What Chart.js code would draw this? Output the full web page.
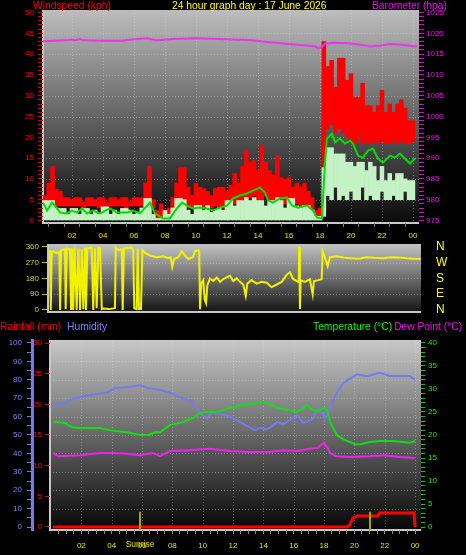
<!DOCTYPE html>
<html>
<head>
<meta charset="utf-8">
<title>24 hour graph day : 17 June 2026</title>
<script src="https://cdn.jsdelivr.net/npm/chart.js@4.4.1/dist/chart.umd.min.js"></script>
<style>
  html, body { margin: 0; padding: 0; background: #000; }
  body { position: relative; width: 466px; height: 555px; overflow: hidden; font-family: 'Liberation Sans', Arial, sans-serif; }
  canvas { position: absolute; left: 0; }
  .lbl { position: absolute; font-size: 10.3px; line-height: 12px; white-space: nowrap; z-index: 5; }
</style>
</head>
<body>
<div class="lbl" style="left:33px; top:0; color:#ff0000">Windspeed (kph)</div>
<div class="lbl" style="left:172px; top:0; color:#ffff00">24 hour graph day : 17 June 2026</div>
<div class="lbl" style="left:372px; top:0; color:#ff00ff">Barometer (hpa)</div>
<div class="lbl" style="left:0; top:321px; color:#ff0000">Rainfall (mm)</div>
<div class="lbl" style="left:67px; top:321px; color:#8080ff">Humidity</div>
<div class="lbl" style="left:313px; top:321px; color:#00ff00">Temperature (°C)</div>
<div class="lbl" style="left:394px; top:321px; color:#ff00ff">Dew Point (°C)</div>

<canvas id="windChart" width="466" height="245" style="top:0"></canvas>
<canvas id="dirChart" width="466" height="80" style="top:240px"></canvas>
<canvas id="tempChart" width="466" height="220" style="top:335px"></canvas>

<script>
// ---------- data (hours since midnight) ----------
const hourLabels = [2, 4, 6, 8, 10, 12, 14, 16, 18, 20, 22, 24];
const windLabels = [0, 5, 10, 15, 20, 25, 30, 35, 40, 45, 50];
const baroLabels = [975, 980, 985, 990, 995, 1000, 1005, 1010, 1015, 1020, 1025];
const dirLabels = [0, 90, 180, 270, 360];
const compassLabels = ['N', 'E', 'S', 'W', 'N'];
const humLabels = [0, 10, 20, 30, 40, 50, 60, 70, 80, 90, 100];
const rainLabels = [0, 5, 10, 15, 20, 25, 30];
const tempLabels = [0, 5, 10, 15, 20, 25, 30, 35, 40];

// 15 minute bins for wind speed / gust ranges
const binHours = Array.from({ length: 97 }, (_, i) => i * 0.25);

const gustHigh = [
  5.5, 6, 9, 13, 7.5, 7, 5.5, 5.5, 5, 5.5,
  5.5, 4.5, 5.5, 5.5, 5, 5.5, 5.5, 4.5, 5.5, 5.5,
  5, 5.5, 5.5, 4.5, 5.5, 5.5, 5.5, 9, 13, 5,
  2.5, 4, 2.5, 3, 5.5, 9, 12.7, 12.7, 8, 6,
  8.9, 8, 7.7, 7, 6, 7.7, 8, 8, 7, 8.5,
  11.3, 9, 13, 16.8, 14, 14.4, 12, 18, 14, 12,
  11, 15.6, 10.3, 10, 10.3, 8, 8.9, 8, 8.9, 7,
  5.5, 2.4, 3, 43, 37, 38.5, 32, 39, 39, 33.7,
  35.3, 29.6, 29.6, 33, 27.6, 27.6, 26, 27.6, 31.3, 26,
  28, 26, 28, 29, 27, 24, 24
];
const gustLow = [
  2.5, 3.5, 4, 4, 3.5, 3.5, 3.5, 3.5, 3.5, 3.5,
  3.5, 3, 3.5, 3.5, 3.5, 3, 3.5, 3.5, 3.5, 3.5,
  3.5, 3.5, 3, 3.5, 3.5, 3.5, 3.5, 4, 4, 3,
  0.5, 0.5, 0.5, 0.5, 2, 3, 4, 4, 3, 3,
  3.5, 3, 3, 3, 3, 3.5, 3, 3, 3, 4,
  4, 4, 5, 5, 5.5, 6, 5, 5, 6, 5,
  4.5, 5, 4.5, 4, 4, 3.5, 4, 3.5, 3, 3,
  2.5, 0.3, 0.3, 2, 22, 23, 21, 22, 21, 20,
  19, 18.5, 20, 18.5, 19, 18.5, 19, 18.5, 19, 18.5,
  18.5, 19, 18.5, 19, 18.5, 18.5, 19
];
const speedHigh = [
  3, 4.8, 4.8, 4.8, 3, 2.9, 2.9, 1.5, 2.9, 2.9,
  1.5, 2.9, 2.9, 1.5, 2.5, 1.5, 3.3, 3.3, 1.5, 2.5,
  1.5, 2.9, 2.9, 2.5, 1.5, 2, 3, 5.3, 5.3, 1.5,
  0.5, 0.5, 2.4, 1.5, 3, 5.3, 5.3, 5, 2.5, 1.5,
  3.6, 3.6, 2.5, 3.6, 2, 2.5, 3, 2.5, 4.8, 4.8,
  3.5, 4.8, 4.8, 5.5, 4.8, 5.5, 4.8, 4.8, 3.5, 4.8,
  4.8, 5.5, 4.8, 3, 5.3, 5.3, 3.5, 3, 3.6, 3.6,
  2.5, 1, 1, 12.7, 17.5, 17.5, 16, 16, 16, 14,
  14, 13, 14, 14, 12, 14, 13, 9.6, 13, 9.6,
  11.3, 9.6, 11.3, 11.3, 10, 9.6, 9.6
];
const speedLow = [
  0, 0, 0, 0, 0, 0, 0, 0, 0, 0,
  0, 0, 0, 0, 0, 0, 0, 0, 0, 0,
  0, 0, 0, 0, 0, 0, 0, 0, 0, 0,
  0, 0, 0, 0, 0, 0, 0, 0, 0, 0,
  0, 0, 0, 0, 0, 0, 0, 0, 0, 0,
  0, 0, 0, 0, 0, 0, 0, 0, 0, 0,
  0, 0, 0, 0, 0, 0, 0, 0, 0, 0,
  0, 0, 0, 1, 6, 5, 8, 5, 6, 5,
  7, 5, 5, 8, 5, 6, 5, 5, 7, 5,
  5, 6, 5, 5, 7, 5, 5
];

const avgHours = [0.13, 0.39, 0.71, 0.9, 1.23, 1.68, 2.0, 2.32, 2.65, 2.97, 3.35, 3.81, 4.45, 4.9, 5.55, 5.94, 6.39, 7.03, 7.35, 7.87,
  8.32, 8.77, 9.1, 9.42, 9.81, 10.26, 10.71, 11.1, 11.55, 12.0, 12.39, 12.84, 13.29, 13.68, 14.13, 14.45, 14.65, 14.97, 15.42, 15.87,
  16.19, 16.58, 17.16, 17.55, 17.81, 18.13, 18.32, 18.45, 18.77, 18.97, 19.29, 19.61, 19.94, 20.13, 20.45, 20.77, 21.1, 21.42, 21.74, 22.06,
  22.52, 22.84, 23.16, 23.48, 23.81, 24.13];
const avgSpeed = [4.3, 2.4, 4.3, 3.6, 1.9, 1.7, 2.4, 1.9, 2.9, 1.7, 2.4, 1.7, 2.9, 1.9, 1.9, 2.4, 1.7, 4.3, 1.7, 0.5,
  0.5, 2.9, 4.3, 3.6, 2.9, 3.1, 2.9, 2.4, 3.1, 3.6, 5.3, 6.0, 6.5, 7.2, 7.9, 6.7, 4.8, 4.3, 5.3, 5.5,
  3.6, 3.1, 3.6, 2.4, 0.7, 0.5, 13.7, 19.7, 20.9, 18.8, 19.7, 18.5, 19.2, 18.5, 15.6, 15.1, 16.8, 17.3, 14.9, 13.9,
  15.6, 15.1, 16.1, 14.9, 13.7, 14.9];

const baroHours = [0.13, 1.68, 1.94, 2.19, 2.52, 2.71, 3.81, 5.29, 5.55, 6.84, 7.48, 8.5, 10.0, 11.5, 13.6, 14.6, 16.71, 17.68, 17.87, 18.13,
  18.32, 18.84, 19.81, 20.58, 21.23, 21.87, 22.52, 23.16, 24.0, 24.26];
const baroValues = [1018.1, 1018.3, 1018.5, 1018.3, 1018.6, 1018.3, 1018.2, 1018.2, 1018.4, 1018.8, 1018.3, 1018.6, 1018.8, 1018.6, 1018.3, 1017.9, 1017.2, 1016.9, 1016.4, 1016.7,
  1017.5, 1017.7, 1017.6, 1017.3, 1016.8, 1017.0, 1017.4, 1017.3, 1016.9, 1016.9];

const dirHours = [
  0.54, 0.58, 0.63, 0.69, 0.77, 0.97, 1.18, 1.23, 1.29, 1.55,
  1.59, 1.66, 1.87, 1.94, 2.00, 2.08, 2.17, 2.30, 2.41, 2.52,
  2.63, 2.73, 2.84, 2.90, 2.99, 3.27, 3.37, 3.48, 3.59, 3.70,
  3.81, 3.92, 4.00, 4.39, 4.77, 4.82, 4.99, 5.21, 5.27, 5.35,
  5.85, 5.95, 6.02, 6.17, 6.24, 6.32, 6.45, 6.54, 6.71, 7.03,
  7.46, 7.89, 8.21, 8.37, 8.47, 8.58, 8.86, 9.08, 9.29, 9.50,
  9.79, 9.94, 10.15, 10.21, 10.26, 10.34, 10.47, 10.56, 10.65, 10.73,
  10.90, 11.12, 11.34, 11.55, 11.76, 11.98, 12.19, 12.41, 12.63, 12.84,
  13.05, 13.21, 13.31, 13.59, 13.92, 14.24, 14.56, 14.88, 15.21, 15.53,
  15.85, 16.06, 16.28, 16.50, 16.63, 16.66, 16.71, 16.75, 17.03, 17.35,
  17.53, 17.61, 17.89, 18.11, 18.17, 18.32, 18.50, 18.65, 19.08, 19.50,
  19.94, 20.50, 21.01, 21.50, 22.08, 22.60, 23.16, 23.60, 24.02, 24.50
];
const dirValues = [
  340, 330, 0, 330, 335, 325, 330, 0, 340, 345,
  5, 350, 345, 0, 350, 0, 355, 0, 350, 0,
  345, 5, 355, 0, 350, 355, 0, 350, 10, 355,
  350, 5, 8, 5, 10, 355, 340, 345, 0, 350,
  355, 340, 10, 5, 350, 5, 5, 340, 325, 310,
  300, 305, 295, 300, 245, 290, 300, 335, 310, 290,
  300, 335, 340, 330, 5, 150, 170, 60, 40, 140,
  180, 165, 185, 160, 175, 185, 195, 165, 180, 160,
  145, 80, 150, 170, 150, 160, 155, 130, 145, 160,
  200, 215, 175, 165, 160, 360, 5, 170, 160, 175,
  90, 165, 170, 175, 335, 300, 250, 300, 305, 298,
  295, 292, 300, 297, 295, 300, 298, 294, 292, 290
];

const humHours = [0.13, 0.46, 0.92, 1.25, 1.91, 2.77, 3.69, 4.22, 5.01, 5.87, 6.39, 7.19, 7.84, 8.5, 9.36, 9.62, 9.82, 10.28, 10.61, 10.94,
  11.34, 11.8, 12.46, 13.12, 13.45, 13.78, 14.11, 14.44, 14.9, 15.29, 15.75, 16.22, 16.61, 16.94, 17.27, 17.53, 17.73, 17.93, 18.07, 18.4,
  18.85, 19.25, 19.58, 20.17, 20.83, 21.69, 22.35, 23.66, 23.99];
const humValues = [64.7, 67, 67, 69, 70.6, 72, 73, 75.5, 76, 77, 75.5, 74.5, 73, 70.6, 68, 65, 62, 59, 62.5, 62,
  61, 60, 57, 54, 52.7, 54, 53, 54, 57, 56, 58, 61, 56.5, 57.5, 59, 63.6, 62.5, 62, 59, 65,
  73, 78, 80, 83, 82, 84, 82, 82, 80];

const tempHours = [0.13, 0.46, 0.92, 1.38, 1.91, 3.23, 4.09, 5.01, 5.87, 6.39, 6.86, 7.19, 7.84, 8.7, 9.36, 9.82, 10.28, 10.94, 11.8, 12.66,
  13.58, 14.24, 14.9, 15.75, 16.22, 16.88, 17.27, 17.6, 17.93, 18.2, 18.4, 18.85, 19.25, 20.04, 20.37, 21.03, 21.69, 22.54, 23.66, 23.99];
const tempValues = [22.8, 22.8, 22.6, 21.7, 21.5, 21.5, 20.9, 20.6, 20, 20, 20.6, 20.6, 22.2, 22.8, 23.7, 24.8, 25, 25, 25.9, 26.5,
  27, 27, 25.9, 25.4, 25, 26.5, 25.4, 25.2, 25.9, 25.4, 22.8, 20, 19.1, 18, 18, 18.5, 18.7, 18.7, 18.3, 18.7];

const dewHours = [0.13, 0.46, 1.91, 3.23, 4.09, 5.01, 5.87, 6.66, 7.19, 7.84, 9.03, 10.48, 11.8, 13.12, 14.44, 15.29, 16.22, 17.07, 17.6, 17.93,
  18.2, 18.4, 18.79, 19.71, 21.03, 21.89, 23.01, 23.99];
const dewValues = [16.1, 15.4, 15.6, 16.1, 16.1, 15.9, 15.6, 16.1, 15.4, 16.5, 16.7, 17, 16.5, 16.3, 16.3, 16.7, 16.5, 17, 17.2, 18.3,
  17.4, 16.1, 15.4, 15.2, 15.4, 15.6, 15.2, 15];

const rainHours = [0.13, 19.5, 19.7, 19.9, 20.2, 21.55, 21.65, 23.93, 24.0];
const rainValues = [0, 0, 0.3, 1.5, 1.8, 1.8, 2.3, 2.3, 0];

const sunHours = [5.87, 21.03];
const sunNames = ['Sunrise', ''];

// ---------- helpers ----------
const FONT = "'Liberation Sans', Arial, sans-serif";
const pad2 = h => String(h % 24).padStart(2, '0');
const pts = (xs, ys) => xs.map((x, i) => ({ x: x, y: ys[i] }));
const ranges = (lo, hi) => binHours.map((h, i) => ({ x: h, y: [lo[i], hi[i]] }));
const steps = (from, to, step) => {
  const out = [];
  for (let v = from; v <= to + 1e-9; v += step) out.push(Math.round(v * 100) / 100);
  return out;
};
const setTicks = list => scale => { scale.ticks = list.map(v => ({ value: v })); };
// fixed axis size, and no extra room reserved for the end labels
const fixWidth = w => s => { s.width = w; s.paddingTop = 0; s.paddingBottom = 0; };
const fixHeight = h => s => { s.height = h; s.paddingLeft = 0; s.paddingRight = 0; };
const tickFont = { family: FONT, size: 8 };

// gradient background, dotted grid and light frame for every panel
function panel(opts) {
  return {
    id: 'panel',
    beforeDraw(chart) {
      const { ctx, chartArea: a } = chart;
      const g = ctx.createLinearGradient(0, a.top, 0, a.bottom);
      g.addColorStop(0, opts.top);
      g.addColorStop(1, opts.bottom);
      ctx.save();
      ctx.fillStyle = g;
      ctx.fillRect(a.left, a.top, a.width, a.height);
      ctx.strokeStyle = 'rgba(225,225,225,0.35)';
      ctx.lineWidth = 1;
      ctx.setLineDash([1, 2]);
      const xs = chart.scales.x;
      (opts.xGrid || []).forEach(v => {
        const px = Math.round(xs.getPixelForValue(v)) + 0.5;
        ctx.beginPath(); ctx.moveTo(px, a.top); ctx.lineTo(px, a.bottom); ctx.stroke();
      });
      const ys = chart.scales[opts.yAxis];
      (opts.yGrid || []).forEach(v => {
        const py = Math.round(ys.getPixelForValue(v)) + 0.5;
        ctx.beginPath(); ctx.moveTo(a.left, py); ctx.lineTo(a.right, py); ctx.stroke();
      });
      ctx.setLineDash([]);
      ctx.strokeStyle = '#c8c8c8';
      ctx.lineWidth = 2;
      ctx.beginPath();
      ctx.moveTo(a.left, a.top); ctx.lineTo(a.left, a.bottom); ctx.lineTo(a.right, a.bottom);
      ctx.stroke();
      ctx.restore();
    }
  };
}

const common = {
  responsive: false,
  animation: false,
  events: [],
  devicePixelRatio: 1,
  plugins: { legend: { display: false }, tooltip: { enabled: false } }
};

// ---------- top: wind speed and barometer ----------
new Chart(document.getElementById('windChart'), {
  type: 'bar',
  data: {
    datasets: [
      { type: 'line', data: pts(baroHours, baroValues), yAxisID: 'yb', borderColor: '#ee33ee', borderWidth: 2, pointRadius: 0 },
      { type: 'line', data: pts(avgHours, avgSpeed), yAxisID: 'y', borderColor: '#00dd00', borderWidth: 2, pointRadius: 0 },
      { data: ranges(speedLow, speedHigh), yAxisID: 'y', backgroundColor: '#c4f2c4', grouped: false, barPercentage: 1, categoryPercentage: 1, borderWidth: 0 },
      { data: ranges(gustLow, gustHigh), yAxisID: 'y', backgroundColor: '#ff0000', grouped: false, barPercentage: 1, categoryPercentage: 1, borderWidth: 0 }
    ]
  },
  options: {
    ...common,
    layout: { padding: { top: 10, left: 0, right: 0, bottom: 0 } },
    scales: {
      x: {
        type: 'linear', min: 0.13, max: 24.39, offset: false,
        afterBuildTicks: setTicks(steps(1, 24, 1)),
        afterFit: fixHeight(22),
        grid: { drawOnChartArea: false, tickLength: 4, tickColor: '#8a8a8a' },
        border: { display: false },
        ticks: { autoSkip: false, maxRotation: 0, padding: 4, color: '#e0e000', font: tickFont,
          callback: v => hourLabels.includes(v) ? pad2(v) : '' }
      },
      y: {
        position: 'left', min: -0.6, max: 50.6,
        afterBuildTicks: setTicks(steps(0, 50, 1)),
        afterFit: fixWidth(43),
        grid: { drawOnChartArea: false, tickLength: 5, tickColor: '#e00000' },
        border: { display: false },
        ticks: { autoSkip: false, padding: 4, color: '#ff0000', font: tickFont,
          callback: v => windLabels.includes(v) ? v : '' }
      },
      yb: {
        position: 'right', min: 974.4, max: 1025.6,
        afterBuildTicks: setTicks(steps(975, 1025, 1)),
        afterFit: fixWidth(47),
        grid: { drawOnChartArea: false, tickLength: 5, tickColor: '#e000e0' },
        border: { display: false },
        ticks: { autoSkip: false, padding: 2, color: '#ff00ff', font: tickFont,
          callback: v => baroLabels.includes(v) ? v : '' }
      }
    }
  },
  plugins: [panel({ top: '#bdbdbd', bottom: '#0a0a0a', xGrid: hourLabels, yAxis: 'y', yGrid: windLabels.slice(1, 10) })]
});

// ---------- middle: wind direction ----------
new Chart(document.getElementById('dirChart'), {
  type: 'line',
  data: {
    datasets: [
      { data: pts(dirHours, dirValues), yAxisID: 'y', borderColor: '#f2f200', borderWidth: 2, pointRadius: 0 }
    ]
  },
  options: {
    ...common,
    layout: { padding: { top: 4, left: 0, right: 0, bottom: 8 } },
    scales: {
      x: { type: 'linear', min: 0.45, max: 24.52, display: false },
      y: {
        position: 'left', min: -11.4, max: 375.4,
        afterBuildTicks: setTicks(dirLabels),
        afterFit: fixWidth(48),
        grid: { drawOnChartArea: false, tickLength: 6, tickColor: '#c8c800' },
        border: { display: false },
        ticks: { autoSkip: false, padding: 3, color: '#d4d400', font: tickFont }
      },
      yc: {
        position: 'right', min: -11.4, max: 375.4,
        afterBuildTicks: setTicks(dirLabels),
        afterFit: fixWidth(45),
        grid: { drawOnChartArea: false, tickLength: 13, tickColor: 'transparent' },
        border: { display: false },
        ticks: { autoSkip: false, padding: 2, color: '#ffff00', font: { family: FONT, size: 12 },
          callback: v => compassLabels[dirLabels.indexOf(v)] }
      }
    }
  },
  plugins: [panel({ top: '#c4c4c4', bottom: '#141414', yAxis: 'y', yGrid: [90, 180, 270] })]
});

// ---------- bottom: rain, humidity, temperature, dew point ----------
const sunMarks = {
  id: 'sunMarks',
  afterDatasetsDraw(chart) {
    const { ctx, chartArea: a } = chart;
    const xs = chart.scales.x, yr = chart.scales.yr;
    ctx.save();
    ctx.strokeStyle = '#a8a800';
    ctx.lineWidth = 2;
    sunHours.forEach(h => {
      const px = Math.round(xs.getPixelForValue(h));
      ctx.beginPath(); ctx.moveTo(px, a.bottom); ctx.lineTo(px, yr.getPixelForValue(2.5)); ctx.stroke();
    });
    ctx.restore();
  },
  afterDraw(chart) {
    const { ctx, chartArea: a } = chart;
    const xs = chart.scales.x;
    ctx.save();
    ctx.font = '8.5px ' + FONT;
    ctx.fillStyle = '#e0e000';
    ctx.textAlign = 'center';
    ctx.textBaseline = 'top';
    sunHours.forEach((h, i) => {
      if (sunNames[i]) ctx.fillText(sunNames[i], xs.getPixelForValue(h), a.bottom + 10);
    });
    ctx.restore();
  }
};

new Chart(document.getElementById('tempChart'), {
  type: 'line',
  data: {
    datasets: [
      { data: pts(rainHours, rainValues), yAxisID: 'yr', borderColor: '#ff0000', borderWidth: 3, pointRadius: 0 },
      { data: pts(dewHours, dewValues), yAxisID: 'yt', borderColor: '#ee22ee', borderWidth: 2, pointRadius: 0 },
      { data: pts(tempHours, tempValues), yAxisID: 'yt', borderColor: '#10e010', borderWidth: 2, pointRadius: 0 },
      { data: pts(humHours, humValues), yAxisID: 'yh', borderColor: '#7878f0', borderWidth: 2, pointRadius: 0 }
    ]
  },
  options: {
    ...common,
    layout: { padding: { top: 5, left: 0, right: 0, bottom: 0 } },
    scales: {
      x: {
        type: 'linear', min: -0.066, max: 24.39, offset: false,
        afterBuildTicks: setTicks(steps(0.5, 24, 0.5)),
        afterFit: fixHeight(25),
        grid: { drawOnChartArea: false, tickLength: 4, tickColor: '#8a8a8a' },
        border: { display: false },
        ticks: { autoSkip: false, maxRotation: 0, padding: 7, color: '#e0e000', font: tickFont,
          callback: v => hourLabels.includes(v) ? pad2(v) : '' }
      },
      yh: {
        position: 'left', weight: 1, min: -1.63, max: 101.63,
        afterBuildTicks: setTicks(steps(0, 100, 5)),
        afterFit: fixWidth(32),
        grid: { drawOnChartArea: false, tickLength: 5, tickColor: '#7878f0' },
        border: { display: true, color: '#7878f0', width: 3 },
        ticks: { autoSkip: false, padding: 5, color: '#8080ff', font: tickFont,
          callback: v => humLabels.includes(v) ? v : '' }
      },
      yr: {
        position: 'left', weight: 0, min: -0.49, max: 30.49,
        afterBuildTicks: setTicks(rainLabels),
        afterFit: fixWidth(18),
        grid: { drawOnChartArea: false, tickLength: 5, tickColor: '#e00000' },
        border: { display: false },
        ticks: { autoSkip: false, padding: 3, color: '#ff0000', font: tickFont }
      },
      yt: {
        position: 'right', min: -0.65, max: 40.65,
        afterBuildTicks: setTicks(steps(0, 40, 1)),
        afterFit: fixWidth(45),
        grid: { drawOnChartArea: false, tickLength: 4, tickColor: '#00d000' },
        border: { display: false },
        ticks: { autoSkip: false, padding: 3, color: '#00ff00', font: tickFont,
          callback: v => tempLabels.includes(v) ? v : '' }
      }
    }
  },
  plugins: [panel({ top: '#c8c8c8', bottom: '#060606', xGrid: hourLabels, yAxis: 'yh', yGrid: humLabels.slice(1, 10) }), sunMarks]
});
</script>
</body>
</html>
